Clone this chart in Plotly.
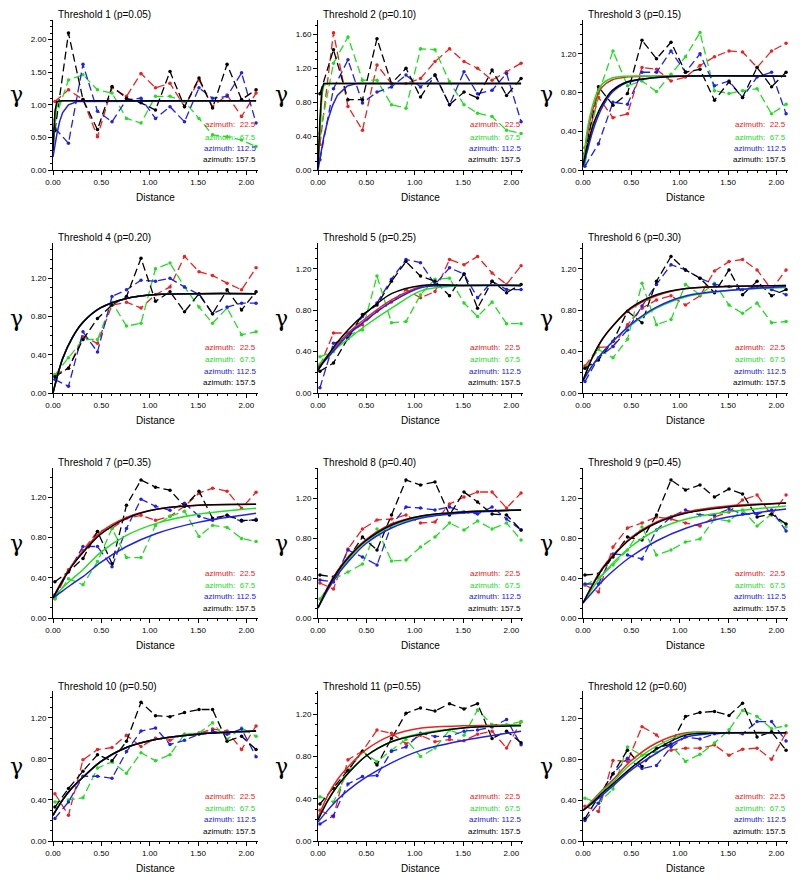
import plotly.graph_objects as go

PAGE_W, PAGE_H = 800, 887
BODY = 8  # default page margin around the figure
W, H = PAGE_W - 2 * BODY, PAGE_H - 2 * BODY

# ---------------- data ----------------
LAGS = [0.02, 0.16, 0.31, 0.46, 0.61, 0.76, 0.91, 1.06, 1.21, 1.36, 1.51, 1.65, 1.80, 1.95, 2.10]
AZIMUTHS = ["22.5", "67.5", "112.5", "157.5"]
TITLES = ["Threshold 1 (p=0.05)", "Threshold 2 (p=0.10)", "Threshold 3 (p=0.15)",
          "Threshold 4 (p=0.20)", "Threshold 5 (p=0.25)", "Threshold 6 (p=0.30)",
          "Threshold 7 (p=0.35)", "Threshold 8 (p=0.40)", "Threshold 9 (p=0.45)",
          "Threshold 10 (p=0.50)", "Threshold 11 (p=0.55)", "Threshold 12 (p=0.60)"]
Y_MAX = [2.3, 1.77, 1.55, 1.57, 1.45, 1.45, 1.49, 1.5, 1.5, 1.46, 1.42, 1.47]
Y_DTICK = [0.5, 0.4, 0.4, 0.4, 0.4, 0.4, 0.4, 0.4, 0.4, 0.4, 0.4, 0.4]
X_TICKS = [0.0, 0.5, 1.0, 1.5, 2.0]

# experimental variograms (one row per threshold)
EXP_22_5 = [
    [1.05, 1.23, 1.08, 0.51, 1.26, 1.13, 1.48, 1.26, 1.33, 0.97, 1.38, 0.97, 1.15, 0.82, 1.18],
    [0.30, 1.62, 0.75, 0.47, 1.24, 1.02, 1.02, 1.08, 1.28, 1.43, 1.28, 1.20, 1.06, 1.16, 1.26],
    [0.23, 0.75, 0.54, 0.58, 1.06, 1.04, 0.92, 0.96, 1.08, 1.17, 1.23, 1.22, 1.06, 1.23, 1.31],
    [0.19, 0.26, 0.59, 0.52, 0.92, 0.95, 0.89, 1.03, 1.11, 1.43, 1.27, 1.23, 1.15, 1.08, 1.31],
    [0.26, 0.58, 0.58, 0.66, 0.79, 0.88, 1.00, 0.92, 0.98, 1.29, 1.24, 1.32, 1.16, 1.05, 1.23],
    [0.26, 0.44, 0.45, 0.66, 0.82, 0.90, 0.94, 0.85, 0.94, 1.18, 1.27, 1.29, 1.19, 1.00, 1.19],
    [0.19, 0.48, 0.67, 0.86, 0.89, 0.99, 1.02, 0.97, 1.01, 1.11, 1.24, 1.29, 1.26, 1.09, 1.25],
    [0.35, 0.29, 0.69, 0.89, 0.98, 0.99, 1.03, 0.95, 0.96, 1.14, 1.21, 1.26, 1.26, 1.10, 1.25],
    [0.33, 0.26, 0.71, 0.90, 0.95, 1.01, 0.99, 0.95, 0.92, 1.01, 1.06, 1.18, 1.23, 1.03, 1.23],
    [0.46, 0.25, 0.79, 0.89, 0.91, 1.03, 0.92, 1.00, 0.98, 1.04, 1.05, 1.09, 1.07, 0.89, 1.12],
    [0.29, 0.23, 0.77, 0.85, 1.05, 1.02, 0.92, 1.00, 0.94, 0.96, 0.95, 1.01, 1.04, 0.88, 1.13],
    [0.34, 0.29, 0.79, 0.78, 1.12, 1.04, 0.89, 0.91, 0.91, 0.94, 0.84, 0.90, 0.91, 0.80, 1.06],
]
EXP_67_5 = [
    [0.77, 1.38, 1.46, 1.23, 1.18, 0.79, 0.72, 1.13, 1.13, 1.05, 0.79, 0.54, 0.51, 0.46, 0.36],
    [0.43, 1.26, 1.57, 1.06, 1.06, 0.77, 0.73, 1.43, 1.42, 1.04, 0.77, 0.67, 0.63, 0.47, 0.43],
    [0.06, 0.79, 1.23, 0.87, 0.92, 0.81, 0.99, 1.17, 1.42, 0.82, 0.79, 0.82, 0.84, 0.58, 0.68],
    [0.19, 0.37, 0.56, 0.56, 0.95, 0.70, 0.73, 1.30, 1.36, 1.11, 0.90, 0.73, 0.89, 0.61, 0.64],
    [0.35, 0.40, 0.56, 0.61, 1.13, 0.68, 0.69, 0.95, 1.10, 1.11, 0.87, 0.74, 0.88, 0.67, 0.67],
    [0.24, 0.42, 0.34, 0.52, 1.06, 0.66, 0.71, 1.05, 0.95, 1.06, 0.85, 0.77, 0.87, 0.68, 0.69],
    [0.19, 0.39, 0.33, 0.56, 0.89, 0.60, 0.60, 0.92, 1.01, 1.06, 0.81, 0.92, 0.90, 0.79, 0.76],
    [0.19, 0.39, 0.46, 0.54, 0.89, 0.57, 0.58, 0.71, 0.81, 0.95, 0.88, 0.97, 0.89, 0.95, 0.78],
    [0.33, 0.40, 0.53, 0.68, 0.91, 0.63, 0.68, 0.76, 0.79, 0.99, 0.97, 1.08, 0.92, 1.04, 0.91],
    [0.38, 0.40, 0.42, 0.71, 0.77, 0.66, 0.86, 0.78, 0.84, 1.04, 1.05, 1.15, 0.99, 1.10, 1.02],
    [0.42, 0.37, 0.66, 0.85, 0.75, 0.86, 0.96, 0.80, 0.88, 1.05, 1.00, 1.24, 1.10, 1.10, 1.13],
    [0.42, 0.37, 0.51, 0.92, 0.84, 0.87, 0.94, 0.78, 0.85, 0.96, 1.09, 1.28, 1.22, 1.10, 1.13],
]
EXP_112_5 = [
    [0.64, 0.41, 1.62, 0.90, 0.74, 1.08, 1.10, 0.79, 0.97, 0.74, 1.26, 1.10, 1.13, 1.49, 0.72],
    [0.12, 0.96, 1.30, 0.79, 0.92, 0.98, 1.12, 0.98, 1.12, 0.77, 1.16, 0.90, 0.94, 1.14, 0.57],
    [0.04, 0.27, 0.70, 0.68, 1.01, 1.01, 1.23, 1.01, 1.20, 0.87, 0.92, 0.75, 0.96, 1.01, 0.58],
    [0.14, 0.07, 0.64, 0.43, 1.01, 1.08, 1.18, 1.17, 1.20, 1.11, 1.03, 0.83, 0.90, 0.94, 0.94],
    [0.05, 0.48, 0.53, 0.74, 0.87, 1.10, 1.29, 1.26, 1.05, 1.21, 1.15, 0.92, 1.08, 1.00, 1.00],
    [0.11, 0.34, 0.45, 0.61, 0.84, 1.05, 1.24, 1.19, 1.11, 1.05, 1.03, 1.00, 1.03, 1.00, 0.95],
    [0.23, 0.46, 0.71, 0.71, 0.51, 0.89, 1.18, 1.11, 1.07, 1.14, 1.01, 0.97, 1.02, 0.96, 0.98],
    [0.38, 0.36, 0.68, 0.61, 0.53, 0.93, 1.11, 1.10, 1.08, 1.11, 1.06, 1.04, 1.11, 0.99, 0.88],
    [0.34, 0.34, 0.64, 0.63, 0.59, 0.88, 1.01, 1.08, 1.03, 1.03, 1.09, 1.04, 1.04, 1.08, 0.87],
    [0.22, 0.38, 0.63, 0.63, 0.61, 0.87, 1.07, 1.10, 0.94, 0.98, 1.04, 1.07, 1.04, 1.09, 0.82],
    [0.16, 0.24, 0.54, 0.61, 0.62, 0.85, 0.89, 1.02, 0.99, 0.99, 1.04, 1.05, 1.08, 1.15, 0.91],
    [0.20, 0.37, 0.66, 0.81, 0.71, 0.74, 0.92, 1.02, 1.00, 1.05, 1.06, 1.05, 1.17, 1.17, 0.98],
]
EXP_157_5 = [
    [0.60, 2.10, 1.08, 0.62, 1.28, 1.10, 1.03, 0.92, 1.51, 0.97, 1.41, 0.95, 1.62, 1.08, 1.23],
    [0.90, 1.42, 0.83, 0.83, 1.55, 1.02, 1.20, 0.86, 1.12, 0.77, 0.92, 0.85, 1.18, 0.88, 1.08],
    [0.17, 0.86, 0.67, 0.79, 1.34, 1.15, 1.32, 1.01, 1.04, 0.72, 0.91, 0.75, 1.06, 0.86, 1.01],
    [0.17, 0.26, 0.56, 0.78, 0.92, 1.01, 1.41, 0.96, 1.06, 0.85, 1.04, 0.83, 1.08, 0.87, 1.06],
    [0.21, 0.29, 0.53, 0.76, 0.85, 1.08, 1.27, 1.13, 1.08, 0.94, 1.15, 0.82, 1.08, 0.97, 1.05],
    [0.24, 0.32, 0.50, 0.79, 0.68, 1.08, 1.32, 1.19, 1.11, 0.97, 1.19, 0.95, 1.08, 0.94, 1.00],
    [0.36, 0.46, 0.59, 0.86, 0.54, 1.12, 1.37, 1.30, 1.27, 1.11, 1.26, 0.99, 1.02, 0.97, 0.97],
    [0.43, 0.41, 0.59, 0.81, 0.68, 1.03, 1.38, 1.33, 1.36, 1.03, 1.26, 1.16, 1.04, 1.03, 0.88],
    [0.43, 0.44, 0.61, 0.81, 0.78, 1.03, 1.38, 1.28, 1.33, 1.21, 1.29, 1.24, 1.01, 1.04, 0.94],
    [0.33, 0.51, 0.68, 0.84, 0.78, 0.97, 1.35, 1.22, 1.21, 1.25, 1.28, 1.28, 0.97, 1.02, 0.89],
    [0.35, 0.50, 0.67, 0.85, 0.72, 0.97, 1.21, 1.26, 1.23, 1.30, 1.25, 1.30, 0.97, 1.04, 0.93],
    [0.22, 0.43, 0.66, 0.89, 0.73, 0.91, 0.95, 1.22, 1.26, 1.27, 1.23, 1.35, 1.02, 1.07, 0.89],
]

# fitted model curves, read at these distances
MODEL_X = [
    [0, 0.02, 0.04, 0.07, 0.10, 0.16, 0.25, 2.1],
    [0, 0.02, 0.04, 0.06, 0.10, 0.15, 0.20, 0.30, 0.40, 2.1],
    [0, 0.05, 0.10, 0.15, 0.20, 0.30, 0.45, 0.70, 1.00, 2.1],
] + [[0, 0.10, 0.20, 0.31, 0.49, 0.76, 1.07, 1.50, 2.1]] * 9
MODEL_SHAPE = ["linear", "linear"] + ["spline"] * 10

MODEL_22_5 = [
    [0.30, 0.80, 1.02, 1.06, 1.06, 1.06, 1.06, 1.06],
    [0.00, 0.55, 0.92, 1.01, 1.02, 1.02, 1.02, 1.02, 1.02, 1.02],
    [0.05, 0.40, 0.62, 0.77, 0.86, 0.93, 0.96, 0.97, 0.97, 0.97],
    [0.00, 0.36, 0.58, 0.74, 0.89, 0.99, 1.03, 1.04, 1.04],
    [0.25, 0.36, 0.47, 0.58, 0.72, 0.90, 1.03, 1.04, 1.04],
    [0.12, 0.35, 0.52, 0.65, 0.81, 0.94, 1.01, 1.03, 1.04],
    [0.20, 0.38, 0.53, 0.66, 0.85, 1.00, 1.08, 1.12, 1.13],
    [0.10, 0.31, 0.47, 0.61, 0.78, 0.94, 1.02, 1.06, 1.08],
    [0.15, 0.34, 0.50, 0.63, 0.80, 0.96, 1.06, 1.12, 1.15],
    [0.25, 0.40, 0.52, 0.62, 0.77, 0.91, 0.99, 1.04, 1.07],
    [0.22, 0.43, 0.58, 0.70, 0.86, 1.00, 1.07, 1.09, 1.10],
    [0.30, 0.40, 0.50, 0.60, 0.78, 0.96, 1.06, 1.06, 1.06],
]
MODEL_67_5 = [
    [0.30, 0.75, 1.00, 1.06, 1.06, 1.06, 1.06, 1.06],
    [0.00, 0.50, 0.88, 1.00, 1.02, 1.02, 1.02, 1.02, 1.02, 1.02],
    [0.05, 0.45, 0.67, 0.81, 0.89, 0.95, 0.97, 0.97, 0.97, 0.97],
    [0.00, 0.36, 0.58, 0.74, 0.89, 0.99, 1.03, 1.04, 1.04],
    [0.27, 0.36, 0.44, 0.52, 0.65, 0.82, 0.99, 1.04, 1.04],
    [0.12, 0.27, 0.39, 0.50, 0.65, 0.82, 0.93, 0.99, 1.02],
    [0.20, 0.30, 0.39, 0.48, 0.65, 0.82, 0.94, 1.03, 1.09],
    [0.10, 0.29, 0.45, 0.58, 0.76, 0.92, 1.01, 1.06, 1.08],
    [0.15, 0.30, 0.43, 0.55, 0.71, 0.88, 0.99, 1.06, 1.12],
    [0.25, 0.40, 0.52, 0.62, 0.77, 0.91, 0.99, 1.04, 1.07],
    [0.20, 0.38, 0.52, 0.64, 0.80, 0.94, 1.02, 1.07, 1.10],
    [0.30, 0.39, 0.49, 0.58, 0.75, 0.93, 1.05, 1.06, 1.06],
]
MODEL_112_5 = [
    [0.20, 0.38, 0.55, 0.75, 0.88, 1.00, 1.05, 1.06],
    [0.00, 0.14, 0.27, 0.39, 0.58, 0.76, 0.88, 0.99, 1.02, 1.02],
    [0.03, 0.22, 0.40, 0.54, 0.65, 0.80, 0.90, 0.95, 0.97, 0.97],
    [0.00, 0.36, 0.58, 0.74, 0.89, 0.99, 1.03, 1.04, 1.04],
    [0.24, 0.34, 0.45, 0.56, 0.70, 0.88, 1.02, 1.04, 1.04],
    [0.12, 0.27, 0.39, 0.50, 0.66, 0.83, 0.94, 0.99, 1.03],
    [0.20, 0.27, 0.34, 0.41, 0.55, 0.71, 0.84, 0.95, 1.04],
    [0.10, 0.28, 0.43, 0.56, 0.74, 0.90, 1.00, 1.05, 1.08],
    [0.15, 0.26, 0.37, 0.47, 0.61, 0.77, 0.90, 1.01, 1.09],
    [0.25, 0.40, 0.52, 0.62, 0.77, 0.91, 0.99, 1.04, 1.07],
    [0.18, 0.29, 0.39, 0.48, 0.60, 0.74, 0.86, 0.95, 1.04],
    [0.30, 0.37, 0.45, 0.54, 0.69, 0.86, 1.02, 1.06, 1.06],
]
MODEL_157_5 = [
    [0.30, 0.90, 1.05, 1.06, 1.06, 1.06, 1.06, 1.06],
    [0.02, 0.60, 0.95, 1.02, 1.02, 1.02, 1.02, 1.02, 1.02, 1.02],
    [0.05, 0.27, 0.45, 0.58, 0.68, 0.82, 0.91, 0.95, 0.97, 0.97],
    [0.00, 0.36, 0.58, 0.74, 0.89, 0.99, 1.03, 1.04, 1.04],
    [0.22, 0.36, 0.49, 0.61, 0.77, 0.96, 1.04, 1.04, 1.04],
    [0.12, 0.35, 0.52, 0.65, 0.82, 0.95, 1.01, 1.03, 1.04],
    [0.20, 0.37, 0.52, 0.65, 0.83, 0.99, 1.08, 1.12, 1.13],
    [0.10, 0.30, 0.46, 0.60, 0.77, 0.93, 1.02, 1.06, 1.08],
    [0.15, 0.33, 0.49, 0.62, 0.79, 0.95, 1.05, 1.11, 1.15],
    [0.25, 0.40, 0.52, 0.62, 0.77, 0.91, 0.99, 1.04, 1.07],
    [0.20, 0.38, 0.52, 0.64, 0.80, 0.94, 1.01, 1.07, 1.09],
    [0.30, 0.38, 0.47, 0.56, 0.71, 0.90, 1.04, 1.06, 1.06],
]

EXPS = [EXP_22_5, EXP_67_5, EXP_112_5, EXP_157_5]
MODELS = [MODEL_22_5, MODEL_67_5, MODEL_112_5, MODEL_157_5]
COLORS = ["#ee2020", "#22dd22", "#2020ee", "#000000"]

# ---------------- layout geometry (page pixels) ----------------
COL_X0 = [53, 318, 583]
PLOT_W = 205
ROW_BOTTOM = [170, 393, 618, 841]
PLOT_H = 150
FONT = "Liberation Sans, Arial, Helvetica, sans-serif"


def px(x):
    return (x - BODY) / W


def py(y):
    return 1 - (y - BODY) / H


fig = go.Figure()
annotations = []
layout_axes = {}

for i in range(12):
    r, c = divmod(i, 3)
    ax_id = "" if i == 0 else str(i + 1)
    xref, yref = "x" + ax_id, "y" + ax_id
    x0 = COL_X0[c]
    ybot = ROW_BOTTOM[r]
    ytop = ybot - PLOT_H

    for k in range(4):
        fig.add_trace(go.Scatter(
            x=LAGS, y=EXPS[k][i], mode="lines+markers",
            line=dict(color=COLORS[k], width=1.3, dash="8px,4px"),
            marker=dict(color=COLORS[k], size=3.5),
            xaxis=xref, yaxis=yref, showlegend=False, hoverinfo="skip"))
    for k in range(4):
        fig.add_trace(go.Scatter(
            x=MODEL_X[i], y=MODELS[k][i], mode="lines",
            line=dict(color=COLORS[k], width=1.5, shape=MODEL_SHAPE[i], smoothing=0.9),
            xaxis=xref, yaxis=yref, showlegend=False, hoverinfo="skip"))

    common = dict(showline=True, linecolor="black", linewidth=1, ticks="outside",
                  ticklen=4, tickwidth=1, tickcolor="black", showgrid=False, zeroline=False,
                  automargin=False,
                  tickfont=dict(family=FONT, size=8, color="black"), tickformat=".2f")
    layout_axes["xaxis" + ax_id] = dict(
        common, domain=[px(x0), px(x0 + PLOT_W)], range=[0, 2.12], anchor=yref,
        tickvals=X_TICKS,
        minor=dict(ticks="outside", ticklen=2, dtick=0.1, tick0=0, tickcolor="black"))
    layout_axes["yaxis" + ax_id] = dict(
        common, domain=[py(ybot), py(ytop)], range=[0, Y_MAX[i]], anchor=xref,
        dtick=Y_DTICK[i], tick0=0,
        minor=dict(ticks="outside", ticklen=2, dtick=0.1, tick0=0, tickcolor="black"))

    annotations.append(dict(text=TITLES[i], x=px(x0 + 3), y=py(ytop - 5),
                            xref="paper", yref="paper", xanchor="left", yanchor="middle",
                            showarrow=False, font=dict(family=FONT, size=10, color="black")))
    annotations.append(dict(text="γ", x=px(x0 - 45), y=py(ybot - PLOT_H / 2),
                            xref="paper", yref="paper", xanchor="left", yanchor="middle",
                            showarrow=False,
                            font=dict(family="DejaVu Serif, serif", size=22, color="black")))
    annotations.append(dict(text="Distance", x=px(x0 + PLOT_W / 2), y=py(ybot + 27),
                            xref="paper", yref="paper", xanchor="center", yanchor="middle",
                            showarrow=False, font=dict(family=FONT, size=10, color="black")))
    for k, off in enumerate([45, 33, 22, 10]):
        sp = "\u00a0\u00a0" if len(AZIMUTHS[k]) == 4 else "\u00a0"
        annotations.append(dict(text="azimuth:" + sp + AZIMUTHS[k],
                                x=px(x0 + PLOT_W), y=py(ybot - off),
                                xref="paper", yref="paper", xanchor="right", yanchor="middle",
                                showarrow=False, font=dict(family=FONT, size=8, color=COLORS[k])))

fig.update_layout(template="none", width=W, height=H, margin=dict(l=0, r=0, t=0, b=0, pad=0),
                  paper_bgcolor="white", plot_bgcolor="white",
                  annotations=annotations, showlegend=False, **layout_axes)

fig.write_html("out.html")
